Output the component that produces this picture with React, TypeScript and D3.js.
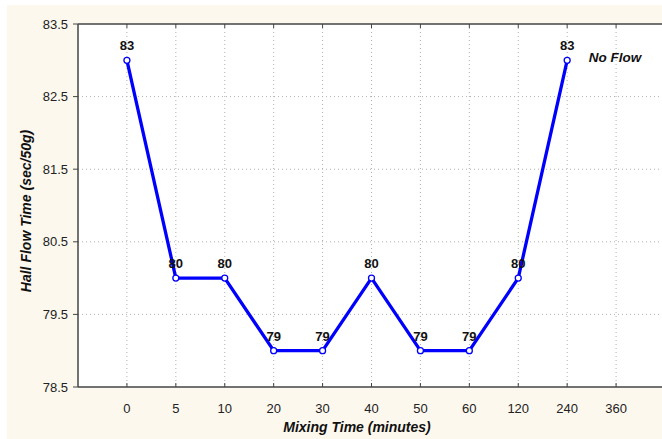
import React from "react";
import * as d3 from "d3";

const mixingTimes = ["0", "5", "10", "20", "30", "40", "50", "60", "120", "240", "360"];
const flowTimes = [83, 80, 80, 79, 79, 80, 79, 79, 80, 83];
const yTicks = [78.5, 79.5, 80.5, 81.5, 82.5, 83.5];
const noFlowNote = "No Flow";

const W = 662;
const H = 439;
const plot = { left: 78, top: 24, right: 662, bottom: 387 };

export default function App() {
  const x = d3
    .scalePoint<string>()
    .domain(mixingTimes)
    .range([plot.left, plot.left + 587])
    .padding(1);
  const y = d3.scaleLinear().domain([78.5, 83.5]).range([plot.bottom, plot.top]);

  const pts = flowTimes.map((v, i) => ({ cat: mixingTimes[i], v }));
  const line = d3
    .line<{ cat: string; v: number }>()
    .x((d) => x(d.cat)!)
    .y((d) => y(d.v));

  const font = "Arial, 'Liberation Sans', sans-serif";
  const gridColor = "#b0b0b0";

  return (
    <svg
      width={W}
      height={H}
      style={{ position: "absolute", left: 0, top: 0, display: "block" }}
      fontFamily={font}
    >
      <rect x={0} y={0} width={W} height={H} fill="#ffffff" />
      <rect x={7} y={5} width={W - 7} height={H - 5} fill="#fdf8ee" />
      <rect
        x={plot.left}
        y={plot.top}
        width={plot.right - plot.left}
        height={plot.bottom - plot.top}
        fill="#ffffff"
      />

      {/* grid */}
      {yTicks.slice(1, -1).map((t) => (
        <line
          key={"gy" + t}
          x1={plot.left}
          x2={plot.right}
          y1={y(t)}
          y2={y(t)}
          stroke={gridColor}
          strokeWidth={1}
          strokeDasharray="1,3"
        />
      ))}
      {mixingTimes.map((c) => (
        <line
          key={"gx" + c}
          x1={x(c)}
          x2={x(c)}
          y1={plot.top}
          y2={plot.bottom}
          stroke={gridColor}
          strokeWidth={1}
          strokeDasharray="1,3"
        />
      ))}

      {/* frame */}
      <line x1={plot.left} x2={plot.right} y1={plot.top} y2={plot.top} stroke="#444" strokeWidth={1.5} />
      <line x1={plot.left} x2={plot.right} y1={plot.bottom} y2={plot.bottom} stroke="#444" strokeWidth={1.5} />
      <line x1={plot.left} x2={plot.left} y1={plot.top} y2={plot.bottom} stroke="#444" strokeWidth={1.5} />

      {/* y axis */}
      {yTicks.map((t) => (
        <g key={"ty" + t}>
          <line x1={plot.left - 5} x2={plot.left} y1={y(t)} y2={y(t)} stroke="#444" />
          <text
            x={plot.left - 10}
            y={y(t)}
            dy="0.35em"
            textAnchor="end"
            fontSize={13}
            fill="#222"
          >
            {t.toFixed(1)}
          </text>
        </g>
      ))}

      {/* x axis */}
      {mixingTimes.map((c) => (
        <g key={"tx" + c}>
          <line x1={x(c)} x2={x(c)} y1={plot.bottom} y2={plot.bottom - 4} stroke="#444" />
          <line x1={x(c)} x2={x(c)} y1={plot.top} y2={plot.top + 4} stroke="#444" />
          <text x={x(c)} y={413} textAnchor="middle" fontSize={13} fill="#222">
            {c}
          </text>
        </g>
      ))}

      {/* series */}
      <path d={line(pts)!} fill="none" stroke="#0000ff" strokeWidth={3.3} strokeLinejoin="round" />
      {pts.map((d) => (
        <circle
          key={"p" + d.cat}
          cx={x(d.cat)}
          cy={y(d.v)}
          r={3}
          fill="#ffffff"
          stroke="#0000ff"
          strokeWidth={1.3}
        />
      ))}
      {pts.map((d) => (
        <text
          key={"l" + d.cat}
          x={x(d.cat)}
          y={y(d.v) - 10}
          textAnchor="middle"
          fontSize={13}
          fontWeight="bold"
          fill="#111"
        >
          {d.v}
        </text>
      ))}

      <text
        x={615}
        y={62}
        textAnchor="middle"
        fontSize={13.5}
        fontWeight="bold"
        fontStyle="italic"
        fill="#111"
      >
        {noFlowNote}
      </text>

      {/* axis titles */}
      <text
        x={357}
        y={432}
        textAnchor="middle"
        fontSize={14}
        fontWeight="bold"
        fontStyle="italic"
        fill="#111"
      >
        Mixing Time (minutes)
      </text>
      <text
        transform={`translate(31, 211) rotate(-90)`}
        textAnchor="middle"
        fontSize={14}
        fontWeight="bold"
        fontStyle="italic"
        fill="#111"
      >
        Hall Flow Time (sec/50g)
      </text>
    </svg>
  );
}
